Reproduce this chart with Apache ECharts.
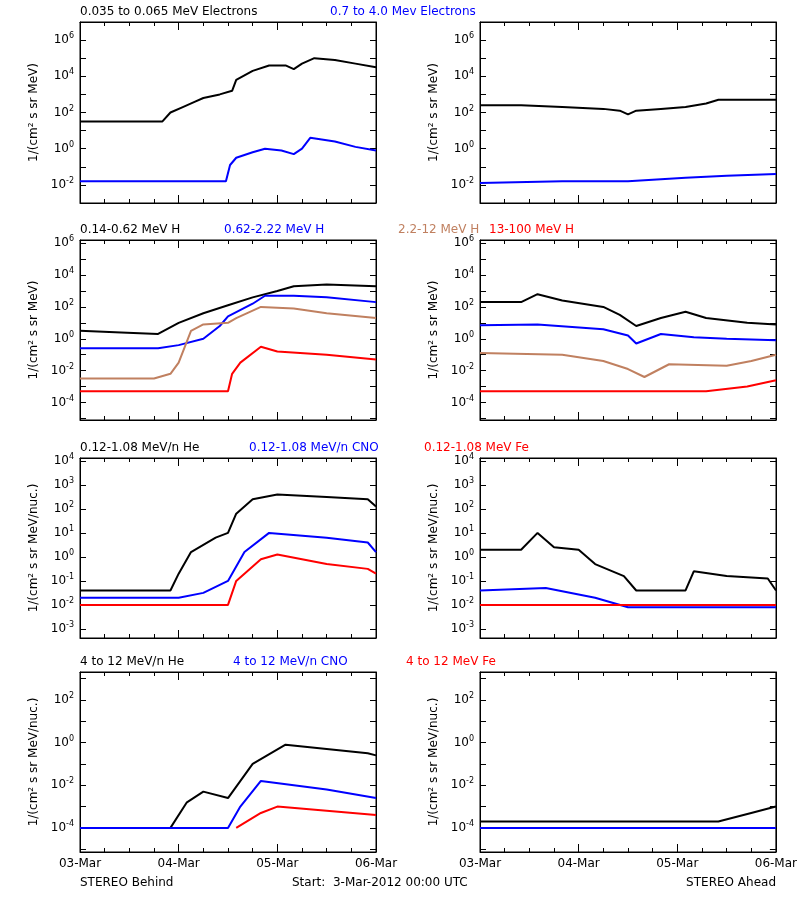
<!DOCTYPE html>
<html><head><meta charset="utf-8">
<script src="https://cdn.jsdelivr.net/npm/echarts@6/dist/echarts.min.js"></script>
<style>html,body{margin:0;background:#fff}#c{width:800px;height:900px}</style>
</head><body><div id="c"></div>
<script>
// x = hours since 3-Mar-2012 00:00 UTC, y = log10(flux)
const dayLabels = ['03-Mar','04-Mar','05-Mar','06-Mar'];
// Row 1: electrons
const e1Behind = [[0,1.5],[20,1.5],[22,2.0],[25,2.3],[28,2.6],[30,2.8],[34,3.0],[37,3.2],[38,3.8],[42,4.3],[46,4.6],[50,4.6],[52,4.4],[54,4.7],[57,5.0],[62,4.9],[67,4.7],[72,4.5]];
const e2Behind = [[0,-1.8],[20,-1.8],[35.5,-1.8],[36.5,-0.9],[38,-0.5],[42,-0.2],[45,0.0],[49,-0.1],[52,-0.3],[54,0.0],[56,0.6],[62,0.4],[67,0.1],[72,-0.1]];
const e1Ahead = [[0,2.4],[10,2.4],[20,2.3],[30,2.2],[34,2.1],[36,1.9],[38,2.1],[44,2.2],[50,2.3],[55,2.5],[58,2.7],[72,2.7]];
const e2Ahead = [[0,-1.9],[20,-1.8],[36,-1.8],[50,-1.6],[60,-1.5],[72,-1.4]];
// Row 2: protons
const h1Behind = [[0,0.5],[10,0.4],[19,0.3],[24,1.0],[30,1.6],[36,2.1],[42,2.6],[48,3.0],[52,3.3],[60,3.4],[72,3.3]];
const h2Behind = [[0,-0.6],[19,-0.6],[24,-0.4],[30,0.0],[34,0.8],[36,1.4],[42,2.2],[45,2.7],[52,2.7],[60,2.6],[72,2.3]];
const h3Behind = [[0,-2.5],[18,-2.5],[22,-2.2],[24,-1.5],[27,0.5],[30,0.9],[36,1.0],[38,1.3],[44,2.0],[52,1.9],[60,1.6],[72,1.3]];
const h4Behind = [[0,-3.3],[20,-3.3],[36,-3.3],[37,-2.2],[39,-1.5],[44,-0.5],[48,-0.8],[60,-1.0],[72,-1.3]];
const h1Ahead = [[0,2.3],[10,2.3],[14,2.8],[20,2.4],[30,2.0],[34,1.5],[38,0.8],[44,1.3],[50,1.7],[55,1.3],[65,1.0],[72,0.9]];
const h2Ahead = [[0,0.85],[14,0.9],[30,0.6],[36,0.2],[38,-0.3],[44,0.3],[52,0.1],[60,0.0],[72,-0.1]];
const h3Ahead = [[0,-0.9],[20,-1.0],[30,-1.4],[36,-1.9],[40,-2.4],[46,-1.6],[60,-1.7],[66,-1.4],[72,-1.0]];
const h4Ahead = [[0,-3.3],[30,-3.3],[55,-3.3],[65,-3.0],[72,-2.6]];
// Row 3: 0.12-1.08 MeV/n heavy ions
const lHeBehind = [[0,-1.4],[22,-1.4],[24,-0.7],[27,0.2],[30,0.5],[33,0.8],[36,1.0],[38,1.8],[42,2.4],[48,2.6],[60,2.5],[70,2.4],[72,2.1]];
const lCnoBehind = [[0,-1.7],[24,-1.7],[30,-1.5],[36,-1.0],[40,0.2],[46,1.0],[60,0.8],[70,0.6],[72,0.2]];
const lFeBehind = [[0,-2.0],[36,-2.0],[38,-1.0],[44,-0.1],[48,0.1],[60,-0.3],[70,-0.5],[72,-0.7]];
const lHeAhead = [[0,0.3],[10,0.3],[14,1.0],[18,0.4],[24,0.3],[28,-0.3],[35,-0.8],[38,-1.4],[50,-1.4],[52,-0.6],[60,-0.8],[70,-0.9],[72,-1.4]];
const lCnoAhead = [[0,-1.4],[16,-1.3],[28,-1.7],[36,-2.1],[72,-2.1]];
const lFeAhead = [[0,-2.0],[72,-2.0]];
// Row 4: 4-12 MeV/n heavy ions
const hHeBehind = [[0,-4.0],[22,-4.0],[26,-2.8],[30,-2.3],[36,-2.6],[42,-1.0],[50,-0.1],[60,-0.3],[70,-0.5],[72,-0.6]];
const hCnoBehind = [[0,-4.0],[36,-4.0],[39,-3.0],[44,-1.8],[60,-2.2],[72,-2.6]];
const hFeBehind = [[38,-4.0],[44,-3.3],[48,-3.0],[60,-3.2],[72,-3.4]];
const hHeAhead = [[0,-3.7],[40,-3.7],[58,-3.7],[66,-3.3],[72,-3.0]];
const hCnoAhead = [[0,-4.0],[72,-4.0]];

const C = {k:'#000000', b:'#0000ff', o:'#c08060', r:'#ff0000'};
const rows = [
 {top:22, h:181, min:-3, max:7, split:10, even:true, name:'1/(cm\u00b2 s sr MeV)',
  L:[[e1Behind,'k'],[e2Behind,'b']], R:[[e1Ahead,'k'],[e2Ahead,'b']],
  titles:[['0.035 to 0.065 MeV Electrons','k',80],['0.7 to 4.0 Mev Electrons','b',330]]},
 {top:240, h:180, min:-5.1, max:6.2, split:11, even:true, name:'1/(cm\u00b2 s sr MeV)',
  L:[[h1Behind,'k'],[h2Behind,'b'],[h3Behind,'o'],[h4Behind,'r']], R:[[h1Ahead,'k'],[h2Ahead,'b'],[h3Ahead,'o'],[h4Ahead,'r']],
  titles:[['0.14-0.62 MeV H','k',80],['0.62-2.22 MeV H','b',224],['2.2-12 MeV H','o',398],['13-100 MeV H','r',489]]},
 {top:458, h:180, min:-3.38, max:4.12, split:7, even:false, name:'1/(cm\u00b2 s sr MeV/nuc.)',
  L:[[lHeBehind,'k'],[lCnoBehind,'b'],[lFeBehind,'r']], R:[[lHeAhead,'k'],[lCnoAhead,'b'],[lFeAhead,'r']],
  titles:[['0.12-1.08 MeV/n He','k',80],['0.12-1.08 MeV/n CNO','b',249],['0.12-1.08 MeV Fe','r',424]]},
 {top:672, h:180, min:-5.13, max:3.31, split:8, even:true, name:'1/(cm\u00b2 s sr MeV/nuc.)',
  L:[[hHeBehind,'k'],[hCnoBehind,'b'],[hFeBehind,'r']], R:[[hHeAhead,'k'],[hCnoAhead,'b']],
  titles:[['4 to 12 MeV/n He','k',80],['4 to 12 MeV/n CNO','b',233],['4 to 12 MeV Fe','r',406]]}
];
const font = 'DejaVu Sans';
const grid=[], xAxis=[], yAxis=[], series=[], graphic=[];
rows.forEach((row,ri)=>{
  [80,480].forEach((left,si)=>{
    const gi = grid.length;
    grid.push({left:left, top:row.top, width:296, height:row.h, show:true, borderColor:'#000', borderWidth:1, backgroundColor:'transparent'});
    const last = ri===3;
    const xi = xAxis.length;
    const xc = {type:'value', gridIndex:gi, min:0, max:72, interval:24,
      axisLine:{show:true,onZero:false,lineStyle:{color:'#000'}}, axisTick:{inside:true,length:8,lineStyle:{color:'#000'}},
      minorTick:{show:true,splitNumber:4,length:4,lineStyle:{color:'#000'}}, splitLine:{show:false}};
    xAxis.push(Object.assign({}, xc, {position:'bottom',
      axisLabel:{show:last, color:'#000', fontFamily:font, fontSize:12, margin:6,
        formatter:v=>dayLabels[Math.round(v/24)]}}));
    xAxis.push(Object.assign({}, xc, {position:'top', axisLabel:{show:false}}));
    const yi = yAxis.length;
    const yc = {type:'value', gridIndex:gi, min:row.min, max:row.max, splitNumber:row.split,
      axisLine:{show:true,onZero:false,lineStyle:{color:'#000'}}, axisTick:{inside:true,length:6,lineStyle:{color:'#000'}},
      splitLine:{show:false}};
    yAxis.push(Object.assign({}, yc, {position:'left',
      name: row.name, nameLocation:'middle', nameGap:40, nameRotate:90,
      nameTextStyle:{color:'#000', fontFamily:font, fontSize:12},
      axisLabel:{color:'#000', margin:6, formatter:v=>{
        if (Math.abs(v-Math.round(v))>1e-6) return '';
        const n=Math.round(v); if (row.even && n%2!==0) return '';
        return '{b|10}{s|'+n+'}';},
        rich:{b:{fontFamily:font,fontSize:12,color:'#000'}, s:{fontFamily:font,fontSize:8,color:'#000',verticalAlign:'top',padding:[0,0,8,0]}}}}));
    yAxis.push(Object.assign({}, yc, {position:'right', axisLabel:{show:false}}));
    (si===0?row.L:row.R).forEach(([d,c])=>{
      series.push({type:'line', xAxisIndex:xi, yAxisIndex:yi, data:d, showSymbol:false, silent:true,
        lineStyle:{color:C[c], width:2}, itemStyle:{color:C[c]}});
    });
  });
  row.titles.forEach(([t,c,x])=>{
    graphic.push({type:'text', left:x, top:row.top-16, style:{text:t, fill:C[c], font:'12px "'+font+'"'}});
  });
});
graphic.push({type:'text', left:80, top:877, style:{text:'STEREO Behind', fill:'#000', font:'12px "'+font+'"'}});
graphic.push({type:'text', left:292, top:877, style:{text:'Start:  3-Mar-2012 00:00 UTC', fill:'#000', font:'12px "'+font+'"'}});
graphic.push({type:'text', right:24, top:877, style:{text:'STEREO Ahead', fill:'#000', font:'12px "'+font+'"'}});
const chart = echarts.init(document.getElementById('c'), null, {renderer:'canvas'});
chart.setOption({animation:false, backgroundColor:'#fff', grid, xAxis, yAxis, series, graphic});
</script></body></html>
